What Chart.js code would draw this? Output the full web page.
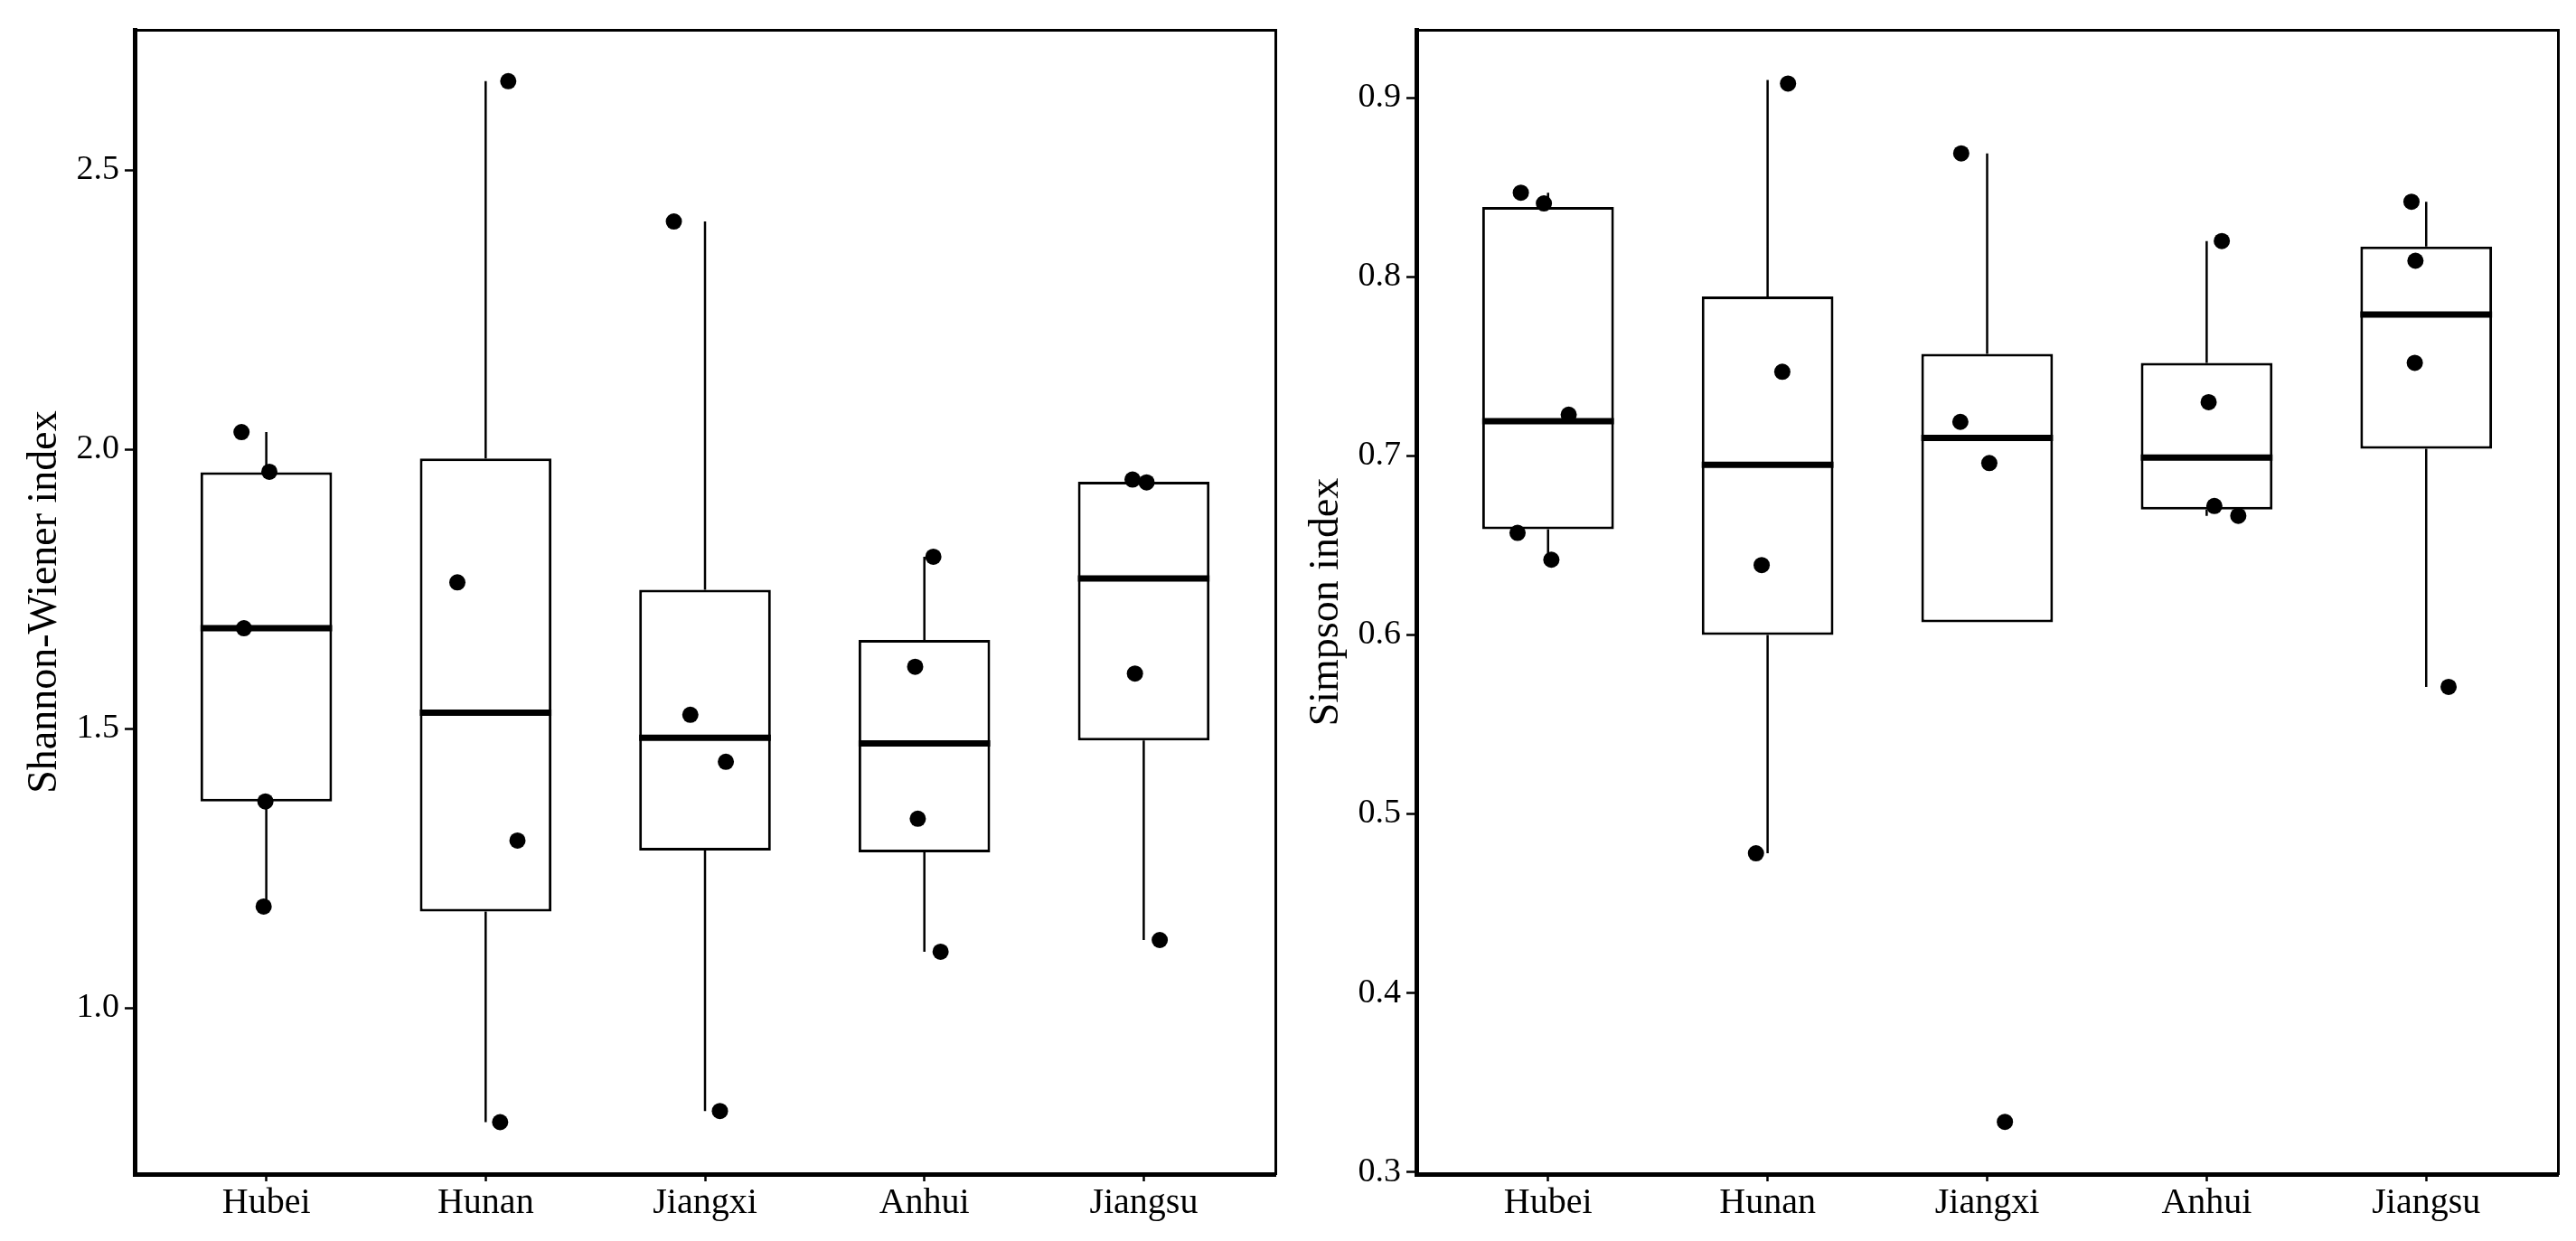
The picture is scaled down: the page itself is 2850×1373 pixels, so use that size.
<!DOCTYPE html>
<html lang="en">
<head>
<meta charset="UTF-8">
<title>Shannon-Wiener and Simpson index by province</title>
<style>
  * { margin: 0; padding: 0; box-sizing: border-box; }
  body { background: #fff; width: 2850px; height: 1373px; overflow: hidden; position: relative; }
  .panel { position: absolute; top: 0; }
  #shannonWrap { left: 0; }
  #simpsonWrap { left: 1420px; }
</style>
<script src="https://cdn.jsdelivr.net/npm/chart.js"></script>
</head>
<body>
<div class="panel" id="shannonWrap"><canvas id="shannonChart" width="1420" height="1373"></canvas></div>
<div class="panel" id="simpsonWrap"><canvas id="simpsonChart" width="1430" height="1373"></canvas></div>
<script>
const regions = ['Hubei', 'Hunan', 'Jiangxi', 'Anhui', 'Jiangsu'];

// Shannon-Wiener index: box statistics per region
const shannonLow = [1.182, 0.796, 0.816, 1.101, 1.122];
const shannonQ1 = [1.370, 1.173, 1.282, 1.279, 1.479];
const shannonMedian = [1.680, 1.529, 1.484, 1.474, 1.769];
const shannonQ3 = [1.959, 1.984, 1.749, 1.659, 1.942];
const shannonHigh = [2.031, 2.659, 2.408, 1.808, 1.946];
// samples, and their jitter along x (in category units)
const shannonPoints = [
  [2.031, 1.960, 1.680, 1.370, 1.182],
  [2.659, 1.762, 1.300, 0.796],
  [2.408, 1.525, 1.441, 0.816],
  [1.808, 1.611, 1.339, 1.101],
  [1.946, 1.941, 1.599, 1.122]
];
const shannonJitter = [
  [-0.113, 0.014, -0.102, -0.004, -0.012],
  [0.103, -0.129, 0.145, 0.066],
  [-0.142, -0.067, 0.095, 0.068],
  [0.041, -0.042, -0.030, 0.074],
  [-0.051, 0.013, -0.040, 0.073]
];
const shannonTicks = [1.0, 1.5, 2.0, 2.5];

// Simpson index
const simpsonLow = [0.642, 0.478, 0.607, 0.6665, 0.571];
const simpsonQ1 = [0.659, 0.600, 0.607, 0.670, 0.704];
const simpsonMedian = [0.7194, 0.695, 0.710, 0.699, 0.779];
const simpsonQ3 = [0.839, 0.789, 0.757, 0.752, 0.817];
const simpsonHigh = [0.847, 0.910, 0.869, 0.820, 0.842];
const simpsonPoints = [
  [0.847, 0.841, 0.723, 0.657, 0.642],
  [0.908, 0.747, 0.639, 0.478],
  [0.869, 0.719, 0.696, 0.328],
  [0.820, 0.730, 0.672, 0.6665],
  [0.842, 0.809, 0.752, 0.571]
];
const simpsonJitter = [
  [-0.124, -0.019, 0.094, -0.139, 0.015],
  [0.093, 0.067, -0.027, -0.053],
  [-0.118, -0.122, 0.010, 0.081],
  [0.069, 0.009, 0.035, 0.144],
  [-0.067, -0.049, -0.052, 0.102]
];
const simpsonTicks = [0.3, 0.4, 0.5, 0.6, 0.7, 0.8, 0.9];

const serif = "'Liberation Serif', 'DejaVu Serif', serif";

function buildChart(id, s) {
  const boxes = [];
  const whiskers = [];
  const medians = [];
  const dots = [];
  regions.forEach((r, i) => {
    const x = i + 1;
    boxes.push({ x: x, y: [s.q1[i], s.q3[i]] });
    whiskers.push({ x: x, y: s.q3[i] }, { x: x, y: s.high[i] }, { x: x, y: null },
                  { x: x, y: s.low[i] }, { x: x, y: s.q1[i] }, { x: x, y: null });
    medians.push({ x: x - 0.3, y: s.median[i] }, { x: x + 0.3, y: s.median[i] }, { x: x, y: null });
    s.points[i].forEach((v, k) => dots.push({ x: x + s.jitter[i][k], y: v }));
  });

  const frame = { display: true, color: '#000', width: 3 };

  return new Chart(document.getElementById(id), {
    type: 'bar',
    data: {
      datasets: [
        { type: 'line', data: dots, showLine: false, pointRadius: 9, pointBackgroundColor: '#000',
          pointBorderWidth: 0, xAxisID: 'x', yAxisID: 'y', order: 0 },
        { type: 'line', data: medians, borderColor: '#000', borderWidth: 7, pointRadius: 0,
          xAxisID: 'x', yAxisID: 'y', order: 1 },
        { type: 'line', data: whiskers, borderColor: '#000', borderWidth: 2.5, pointRadius: 0,
          xAxisID: 'x', yAxisID: 'y', order: 2 },
        { type: 'bar', data: boxes, backgroundColor: '#fff', borderColor: '#000', borderWidth: 3,
          borderSkipped: false, barPercentage: 0.6, categoryPercentage: 1,
          xAxisID: 'x', yAxisID: 'y', order: 3 }
      ]
    },
    options: {
      responsive: false,
      animation: false,
      layout: { padding: { left: 0, top: 33, right: s.padRight, bottom: 0 } },
      plugins: { legend: { display: false }, tooltip: { enabled: false } },
      scales: {
        x: {
          type: 'linear', axis: 'x', position: 'bottom', min: 0.4, max: 5.6, offset: false,
          afterBuildTicks: sc => { sc.ticks = regions.map((r, i) => ({ value: i + 1 })); },
          afterFit: sc => { sc.height = 74; },
          grid: { display: true, drawOnChartArea: false, drawTicks: true, tickLength: 8,
                  tickWidth: 2.5, tickColor: '#000', offset: false },
          border: { display: true, color: '#000', width: 5 },
          ticks: { autoSkip: false, maxRotation: 0, padding: 0, color: '#000',
                   font: { family: serif, size: 40 }, callback: v => regions[v - 1] }
        },
        xTop: {
          type: 'linear', axis: 'x', position: 'top',
          afterFit: sc => { sc.height = 0; },
          grid: { display: false }, ticks: { display: false }, border: frame
        },
        y: {
          type: 'linear', axis: 'y', position: 'left', min: s.min, max: s.max,
          afterBuildTicks: sc => { sc.ticks = s.ticks.map(v => ({ value: v })); },
          afterFit: sc => { sc.width = s.axisWidth; },
          grid: { display: true, drawOnChartArea: false, drawTicks: true, tickLength: 11,
                  tickWidth: 2.5, tickColor: '#000' },
          border: { display: true, color: '#000', width: 5 },
          ticks: { padding: 6, color: '#000', font: { family: serif, size: 38 },
                   callback: v => v.toFixed(1) },
          title: { display: true, text: s.title, color: '#000',
                   font: { family: serif, size: 46, lineHeight: 1 },
                   padding: { top: s.titlePad, bottom: 0 } }
        },
        yRight: {
          type: 'linear', axis: 'y', position: 'right',
          afterFit: sc => { sc.width = 0; },
          grid: { display: false }, ticks: { display: false }, border: frame
        }
      }
    }
  });
}

buildChart('shannonChart', {
  low: shannonLow, q1: shannonQ1, median: shannonMedian, q3: shannonQ3, high: shannonHigh,
  points: shannonPoints, jitter: shannonJitter, ticks: shannonTicks,
  min: 0.703, max: 2.751, title: 'Shannon-Wiener index',
  axisWidth: 149, padRight: 8, titlePad: 27
});

buildChart('simpsonChart', {
  low: simpsonLow, q1: simpsonQ1, median: simpsonMedian, q3: simpsonQ3, high: simpsonHigh,
  points: simpsonPoints, jitter: simpsonJitter, ticks: simpsonTicks,
  min: 0.2988, max: 0.938, title: 'Simpson index',
  axisWidth: 147, padRight: 20, titlePad: 25
});
</script>
</body>
</html>
